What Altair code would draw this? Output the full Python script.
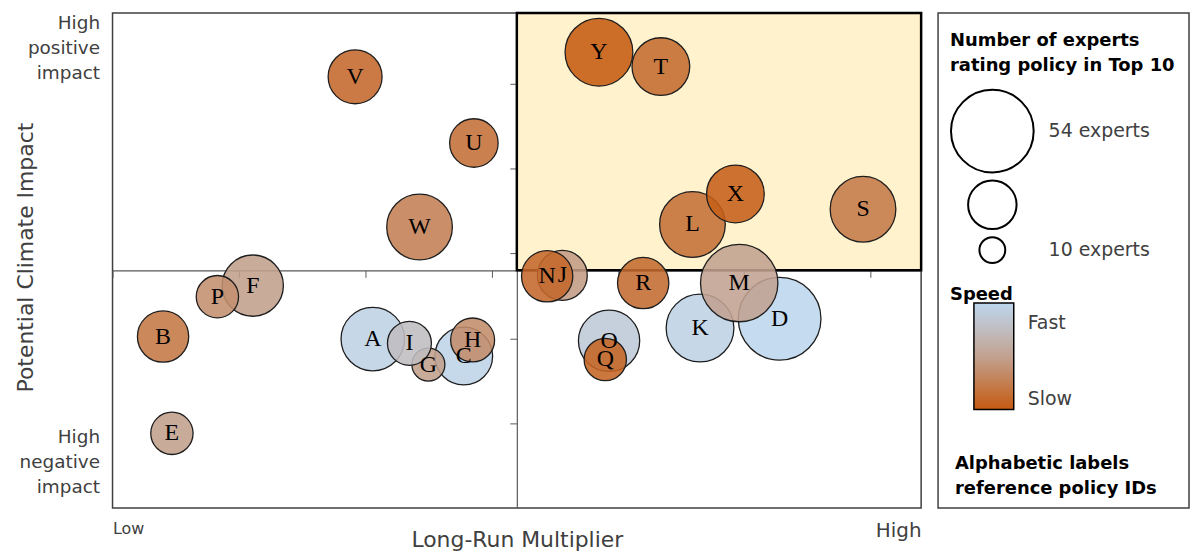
import altair as alt
import pandas as pd

# ---------------- data ----------------
policy_ids = list("ABCDEFGHIJKLMNOPQRSTUVWXY")
long_run_multiplier = [2.06, 0.40, 2.78, 5.28, 0.47, 1.11, 2.50, 2.85, 2.35, 3.56,
                       4.65, 4.59, 4.96, 3.44, 3.93, 0.83, 3.90, 4.20, 5.94, 4.34,
                       2.86, 1.92, 2.43, 4.93, 3.85]
climate_impact = [1.99, 2.02, 1.79, 2.23, 0.88, 2.62, 1.69, 1.98, 1.94, 2.74,
                  2.12, 3.34, 2.65, 2.73, 1.97, 2.49, 1.75, 2.65, 3.52, 5.20,
                  4.30, 5.08, 3.31, 3.70, 5.37]
experts_top10 = [34, 24, 29, 54, 18, 32, 13, 19, 19, 23,
                 38, 36, 48, 24, 32, 18, 18, 24, 36, 29,
                 22, 26, 36, 29, 38]
# speed score: 1 = fast, 0 = slow
speed_score = [0.95, 0.20, 0.97, 1.00, 0.48, 0.48, 0.48, 0.35, 0.75, 0.45,
               0.95, 0.15, 0.50, 0.10, 0.88, 0.37, 0.07, 0.12, 0.22, 0.12,
               0.15, 0.10, 0.26, 0.03, 0.00]

X_MAX, Y_MAX = 6.4, 5.83
X_MID, Y_MID = 3.2, 2.8
x_ticks = [0, 1, 2, 3, 4, 5, 6]
y_ticks = [1, 2, 3, 4, 5]
legend_expert_values = [54, 22, 10]

W, H = 812, 497
PANEL_W = 252
TXT = "#404040"

df = pd.DataFrame({
    "id": policy_ids,
    "multiplier": long_run_multiplier,
    "impact": climate_impact,
    "experts": experts_top10,
    "speed": speed_score,
})
quad = pd.DataFrame({"x": [X_MID], "x2": [X_MAX], "y": [Y_MID], "y2": [Y_MAX]})

xs = alt.Scale(domain=[0, X_MAX], nice=False, zero=False)
ys = alt.Scale(domain=[0, Y_MAX], nice=False, zero=False)

frame_x_axis = alt.Axis(
    values=[0, X_MAX], labelExpr="datum.value < 1 ? 'Low' : 'High'", labelFlush=True,
    ticks=False, domain=False, grid=False, labelPadding=13, labelFont="DejaVu Sans",
    labelFontSize={"condition": {"test": "datum.value < 1", "value": 16}, "value": 20},
    labelColor=TXT, title="Long-Run Multiplier", titleFont="DejaVu Sans", titleFontSize=22,
    titleFontWeight="normal", titleColor=TXT, titleY=32, titleBaseline="middle",
)
frame_y_axis = alt.Axis(
    values=[0.845, 5.72],
    labelExpr="datum.value > 3 ? ['High','positive','impact'] : ['High','negative','impact']",
    ticks=False, domain=False, grid=False, labelPadding=13, labelFont="DejaVu Sans",
    labelFontSize=18.5, labelLineHeight=25, labelColor=TXT,
    title="Potential Climate Impact", titleFont="DejaVu Sans", titleFontSize=22,
    titleFontWeight="normal", titleColor=TXT, titleX=-87, titleY=245, titleBaseline="middle",
)
center_x_axis = alt.Axis(
    orient="bottom", offset=-H * Y_MID / Y_MAX, values=x_ticks, labels=False, title=None,
    grid=False, ticks=True, tickSize=7, tickColor="#595959", domainColor="#595959",
    domainWidth=1.2,
)
center_y_axis = alt.Axis(
    orient="left", offset=-W * X_MID / X_MAX, values=y_ticks, labels=False, title=None,
    grid=False, ticks=True, tickSize=7, tickColor="#595959", domainColor="#595959",
    domainWidth=1.2,
)

quad_rect = alt.Chart(quad).mark_rect(fill="#fff2cc", stroke="black", strokeWidth=2.5).encode(
    x=alt.X("x:Q", scale=xs, axis=frame_x_axis),
    x2="x2:Q",
    y=alt.Y("y:Q", scale=ys, axis=frame_y_axis),
    y2="y2:Q",
)

size_legend = alt.Legend(
    orient="none", legendX=841, legendY=19, direction="vertical", padding=0,
    values=legend_expert_values,
    labelExpr="datum.value == 54 ? '54 experts' : datum.value == 10 ? '10 experts' : ''",
    title=["Number of experts", "rating policy in Top 10"], titleFontSize=18,
    titleFontWeight="bold", titleLineHeight=25, titleColor="black", titleLimit=400,
    titlePadding=14, labelFontSize=19, labelColor=TXT, labelOffset=14,
    symbolFillColor="white", symbolStrokeColor="black", symbolStrokeWidth=2,
    symbolOpacity=1, symbolType="circle", rowPadding=0,
)
color_legend = alt.Legend(
    orient="none", legendX=865, legendY=291, direction="vertical", padding=0,
    values=[0, 0.81], labelExpr="datum.value > 0.5 ? 'Fast' : 'Slow'", title=None,
    gradientLength=107, gradientThickness=40, gradientStrokeColor="black",
    gradientStrokeWidth=1.5, labelFontSize=19, labelColor=TXT, labelOffset=14,
)

bubbles = alt.Chart(df).mark_circle(
    stroke="#1e1e1e", strokeWidth=1.3, opacity=1, fillOpacity=0.88
).encode(
    x=alt.X("multiplier:Q", scale=xs, axis=center_x_axis),
    y=alt.Y("impact:Q", scale=ys, axis=center_y_axis),
    size=alt.Size("experts:Q", scale=alt.Scale(domain=[10, 54], range=[676, 6889], zero=False),
                  legend=size_legend),
    color=alt.Color("speed:Q",
                    scale=alt.Scale(domain=[0, 0.5, 1], range=["#c55a11", "#c2a291", "#bdd7ee"],
                                    interpolate="rgb"),
                    legend=color_legend),
)

labels = alt.Chart(df).mark_text(font="Liberation Serif", fontSize=24, color="black").encode(
    x=alt.X("multiplier:Q", scale=xs, axis=None),
    y=alt.Y("impact:Q", scale=ys, axis=None),
    text="id:N",
)

main = alt.layer(quad_rect, bubbles, labels).resolve_axis(x="independent", y="independent").properties(
    width=W, height=H
)

one = pd.DataFrame({"k": [0]})
speed_title = alt.Chart(one).mark_text(
    text="Speed", align="left", baseline="middle", font="DejaVu Sans", fontSize=18,
    fontWeight="bold", color="black",
).encode(x=alt.value(12), y=alt.value(283))
note = alt.Chart(one).mark_text(
    text=["Alphabetic labels", "reference policy IDs"], align="left", baseline="top",
    font="DejaVu Sans", fontSize=18, fontWeight="bold", color="black", lineHeight=25,
).encode(x=alt.value(17), y=alt.value(444))
panel = alt.layer(speed_title, note).properties(width=PANEL_W, height=H)

chart = (
    alt.hconcat(main, panel, spacing=14)
    .properties(padding={"left": 14, "top": 10, "right": 2, "bottom": 3})
    .configure(font="DejaVu Sans")
    .configure_view(stroke="#404040", strokeWidth=1.5)
)

chart.save("out.html", embed_options={"renderer": "svg", "actions": False})
